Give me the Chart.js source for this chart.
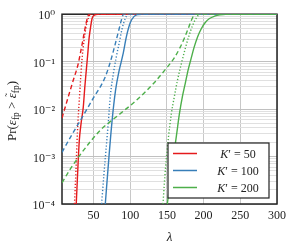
<!DOCTYPE html>
<html>
<head>
<meta charset="utf-8">
<script src="https://cdn.jsdelivr.net/npm/chart.js@4.4.0/dist/chart.umd.min.js"></script>
<style>
    html, body { margin: 0; padding: 0; background: #fff; }
    #wrap { width: 291px; height: 245px; }
</style>
</head>
<body>
<div id="wrap"><canvas id="prChart"></canvas></div>
<script>
// Curves: lambda values and Pr values for each line

// K' = 50 (red)
const lamRedSolid = [26.4, 28, 30.5, 33, 36, 38, 40, 42, 44, 46, 48, 50, 53, 57, 62, 300];
const prRedSolid  = [1e-4, 3.5e-4, 0.0021, 0.005, 0.011, 0.028, 0.063, 0.14, 0.32, 0.54, 0.81, 0.93, 0.98, 0.995, 1, 1];
const lamRedDash  = [7, 15, 22, 29, 32, 35, 38, 40, 42, 44, 300];
const prRedDash   = [0.0065, 0.017, 0.039, 0.089, 0.15, 0.26, 0.47, 0.66, 0.87, 1, 1];
const lamRedDot   = [24, 26, 28, 31, 34, 37, 40, 43, 46, 300];
const prRedDot    = [1e-4, 5e-4, 0.0032, 0.02, 0.1, 0.28, 0.56, 0.83, 1, 1];

// K' = 100 (blue)
const lamBlueSolid = [66, 70, 75, 80, 85, 90, 95, 100, 105, 110, 116, 300];
const prBlueSolid  = [1e-4, 6.3e-4, 0.0052, 0.025, 0.066, 0.14, 0.35, 0.66, 0.89, 0.98, 1, 1];
const lamBlueDash  = [7, 20, 35, 50, 65, 72, 78, 82, 85, 88, 91, 300];
const prBlueDash   = [0.00123, 0.0028, 0.0069, 0.0174, 0.044, 0.089, 0.19, 0.33, 0.5, 0.76, 1, 1];
const lamBlueDot   = [61, 64, 67, 70, 73, 77, 81, 85, 89, 93, 97, 300];
const prBlueDot    = [1e-4, 4e-4, 0.0014, 0.005, 0.02, 0.056, 0.126, 0.25, 0.5, 0.79, 1, 1];

// K' = 200 (green)
const lamGreenSolid = [150.5, 155, 159, 163, 167, 171, 175, 179, 183, 187, 192, 197, 202, 208, 215, 222, 230, 300];
const prGreenSolid  = [1e-4, 3.5e-4, 0.001, 0.0028, 0.0079, 0.018, 0.035, 0.068, 0.117, 0.2, 0.34, 0.5, 0.66, 0.81, 0.91, 0.97, 1, 1];
const lamGreenDash  = [7, 20, 32, 45, 60, 75, 90, 105, 118, 132, 146, 160, 168, 174, 179, 183, 186, 188, 300];
const prGreenDash   = [0.00028, 0.0006, 0.0011, 0.002, 0.0037, 0.0058, 0.0089, 0.0138, 0.021, 0.035, 0.063, 0.12, 0.2, 0.32, 0.5, 0.72, 0.91, 1, 1];
const lamGreenDot   = [144.6, 148, 152, 156, 160, 165, 170, 175, 180, 185, 190, 195, 300];
const prGreenDot    = [1e-4, 5.6e-4, 0.0025, 0.0079, 0.018, 0.045, 0.095, 0.19, 0.35, 0.58, 0.83, 1, 1];

// Axis ticks and legend
const xTicks = [50, 100, 150, 200, 250, 300];
const yExponents = [-4, -3, -2, -1, 0];
const yExpLabels = ['10\u207B\u2074', '10\u207B\u00B3', '10\u207B\u00B2', '10\u207B\u00B9', '10\u2070'];
const legendValues = ['50', '100', '200'];

const RED = '#e41a1c';
const BLUE = '#377eb8';
const GREEN = '#4daf4a';
const SERIF = "'Liberation Serif', 'DejaVu Serif', serif";

function pts(lams, prs) {
    return lams.map((l, i) => ({ x: l, y: prs[i] }));
}

function line(label, lams, prs, color, style, order) {
    let dash = [];
    if (style === 'dash') dash = [4.5, 3];
    if (style === 'dot') dash = [1.2, 2];
    return {
        label: label,
        data: pts(lams, prs),
        borderColor: color,
        borderWidth: 1.4,
        borderDash: dash,
        pointRadius: 0,
        fill: false,
        cubicInterpolationMode: 'monotone',
        order: order
    };
}

function isDecade(v) {
    const e = Math.log10(v);
    return Math.abs(e - Math.round(e)) < 1e-9;
}

// Frame around the plot area (drawn under the lines)
const framePlugin = {
    id: 'frame',
    beforeDatasetsDraw(chart) {
        const { ctx, chartArea: a } = chart;
        ctx.save();
        ctx.strokeStyle = '#222';
        ctx.lineWidth = 1.5;
        ctx.strokeRect(a.left, a.top, a.right - a.left, a.bottom - a.top);
        ctx.restore();
    }
};

// Y axis title with subscripts
const yTitlePlugin = {
    id: 'yTitle',
    afterDraw(chart) {
        const ctx = chart.ctx;
        const parts = [
            { t: 'Pr(', f: '13px ' + SERIF, dy: 0 },
            { t: '\u03B5', f: 'italic 13px ' + SERIF, dy: 0 },
            { t: 'fp', f: '9.5px ' + SERIF, dy: 3 },
            { t: ' > ', f: '13px ' + SERIF, dy: 0 },
            { t: '\u03B5', f: 'italic 13px ' + SERIF, dy: 0, tilde: true },
            { t: 'fp', f: '9.5px ' + SERIF, dy: 3 },
            { t: ')', f: '13px ' + SERIF, dy: 0 }
        ];
        ctx.save();
        let total = 0;
        parts.forEach(p => { ctx.font = p.f; p.w = ctx.measureText(p.t).width; total += p.w; });
        ctx.translate(16, 111);
        ctx.rotate(-Math.PI / 2);
        ctx.fillStyle = '#222';
        ctx.textBaseline = 'alphabetic';
        let x = -total / 2;
        parts.forEach(p => {
            ctx.font = p.f;
            ctx.textAlign = 'left';
            ctx.fillText(p.t, x, p.dy);
            if (p.tilde) {
                ctx.font = '10px ' + SERIF;
                ctx.textAlign = 'center';
                ctx.fillText('\u02DC', x + p.w / 2 + 1, -3);
            }
            x += p.w;
        });
        ctx.restore();
    }
};

// Legend box inside the plot
const legendPlugin = {
    id: 'boxLegend',
    afterDatasetsDraw(chart) {
        const ctx = chart.ctx;
        const colors = [RED, BLUE, GREEN];
        const bx = 168, by = 143, bw = 101, bh = 55;
        ctx.save();
        ctx.fillStyle = '#fff';
        ctx.fillRect(bx, by, bw, bh);
        ctx.strokeStyle = '#222';
        ctx.lineWidth = 1.2;
        ctx.strokeRect(bx, by, bw, bh);
        legendValues.forEach((v, i) => {
            const y = by + 10.5 + i * 17;
            ctx.strokeStyle = colors[i];
            ctx.lineWidth = 1.5;
            ctx.beginPath();
            ctx.moveTo(bx + 5, y);
            ctx.lineTo(bx + 29, y);
            ctx.stroke();
            const a = { t: 'K', f: 'italic 12px ' + SERIF };
            const b = { t: '\u2032 = ' + v, f: '12px ' + SERIF };
            ctx.font = a.f; const wa = ctx.measureText(a.t).width;
            ctx.font = b.f; const wb = ctx.measureText(b.t).width;
            let x = 238 - (wa + wb) / 2;
            ctx.fillStyle = '#222';
            ctx.textBaseline = 'middle';
            ctx.textAlign = 'left';
            ctx.font = a.f; ctx.fillText(a.t, x, y + 1);
            ctx.font = b.f; ctx.fillText(b.t, x + wa, y + 1);
        });
        ctx.restore();
    }
};

const datasets = [
    line('K50 solid', lamRedSolid, prRedSolid, RED, 'solid', 3),
    line('K50 dashed', lamRedDash, prRedDash, RED, 'dash', 3),
    line('K50 dotted', lamRedDot, prRedDot, RED, 'dot', 3),
    line('K100 solid', lamBlueSolid, prBlueSolid, BLUE, 'solid', 2),
    line('K100 dashed', lamBlueDash, prBlueDash, BLUE, 'dash', 2),
    line('K100 dotted', lamBlueDot, prBlueDot, BLUE, 'dot', 2),
    line('K200 solid', lamGreenSolid, prGreenSolid, GREEN, 'solid', 1),
    line('K200 dashed', lamGreenDash, prGreenDash, GREEN, 'dash', 1),
    line('K200 dotted', lamGreenDot, prGreenDot, GREEN, 'dot', 1)
];

new Chart(document.getElementById('prChart'), {
    type: 'line',
    data: { datasets: datasets },
    plugins: [framePlugin, legendPlugin, yTitlePlugin],
    options: {
        responsive: true,
        maintainAspectRatio: false,
        devicePixelRatio: 1,
        animation: false,
        layout: { padding: { top: 11, right: 14, left: 0, bottom: 0 } },
        plugins: {
            legend: { display: false },
            tooltip: { enabled: false }
        },
        scales: {
            x: {
                type: 'linear',
                min: 7,
                max: 300,
                afterBuildTicks: function (scale) {
                    scale.ticks = xTicks.map(v => ({ value: v }));
                },
                afterFit: function (scale) { scale.height = 41; },
                border: { display: false },
                grid: { color: '#c8c8c8', lineWidth: 1, drawTicks: false },
                ticks: {
                    autoSkip: false,
                    maxRotation: 0,
                    padding: 5,
                    color: '#222',
                    font: { family: SERIF, size: 12 }
                },
                title: {
                    display: true,
                    text: '\u03BB',
                    color: '#222',
                    padding: { top: 0, bottom: 0 },
                    font: { family: SERIF, size: 13, style: 'italic' }
                }
            },
            y: {
                type: 'logarithmic',
                min: 1e-4,
                max: 1,
                afterBuildTicks: function (scale) {
                    const t = [];
                    yExponents.forEach(e => {
                        t.push({ value: Math.pow(10, e) });
                        if (e < 0) {
                            for (let k = 2; k <= 9; k++) t.push({ value: k * Math.pow(10, e) });
                        }
                    });
                    scale.ticks = t;
                },
                afterFit: function (scale) { scale.width = 62; },
                border: { display: false },
                grid: {
                    color: ctx => (ctx.tick && isDecade(ctx.tick.value)) ? '#c0c0c0' : '#e0e0e0',
                    lineWidth: 1,
                    drawTicks: false
                },
                ticks: {
                    autoSkip: false,
                    padding: 7,
                    labelOffset: 2,
                    color: '#222',
                    font: { family: SERIF, size: 12 },
                    callback: function (value) {
                        if (!isDecade(value)) return '';
                        const idx = yExponents.indexOf(Math.round(Math.log10(value)));
                        return idx >= 0 ? yExpLabels[idx] : '';
                    }
                }
            }
        }
    }
});
</script>
</body>
</html>
